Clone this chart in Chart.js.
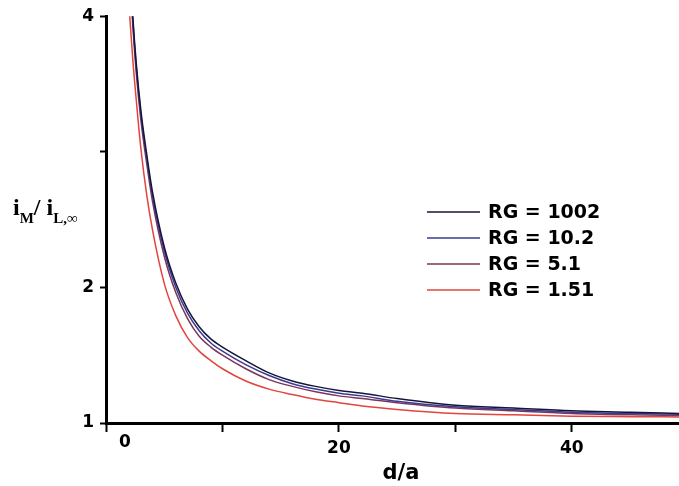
<!DOCTYPE html>
<html>
<head>
<meta charset="utf-8">
<script src="https://cdn.jsdelivr.net/npm/chart.js@4.4.1/dist/chart.umd.min.js"></script>
<style>
    html, body { margin: 0; padding: 0; background: #fff; }
</style>
</head>
<body>
<canvas id="grafico" width="679" height="486"></canvas>
<script>
// d/a onde as curvas foram lidas
const distancias = [2.0, 2.3, 2.6, 3.0, 3.5, 4, 5, 6, 7, 8, 9, 10, 12, 14, 16, 18, 20, 22, 25, 30, 35, 40, 45, 49.2];

// iM / iL,inf para cada RG
const rg1002 = [4.45, 4.0, 3.65, 3.3, 2.98, 2.70, 2.30, 2.03, 1.84, 1.71, 1.62, 1.56, 1.46, 1.37, 1.31, 1.27, 1.24, 1.22, 1.18, 1.13, 1.11, 1.09, 1.08, 1.07];
const rg102 = [4.42, 3.97, 3.62, 3.27, 2.95, 2.67, 2.27, 2.00, 1.81, 1.68, 1.59, 1.53, 1.43, 1.35, 1.29, 1.25, 1.22, 1.20, 1.16, 1.12, 1.10, 1.08, 1.07, 1.065];
const rg51 = [4.38, 3.93, 3.58, 3.23, 2.91, 2.63, 2.23, 1.96, 1.77, 1.64, 1.56, 1.50, 1.40, 1.32, 1.27, 1.23, 1.20, 1.18, 1.15, 1.11, 1.09, 1.07, 1.06, 1.055];
const rg151 = [4.05, 3.68, 3.38, 3.02, 2.68, 2.42, 2.03, 1.79, 1.63, 1.53, 1.46, 1.40, 1.31, 1.25, 1.21, 1.175, 1.15, 1.125, 1.10, 1.07, 1.06, 1.05, 1.047, 1.045];

const rotulos = ["RG = 1002", "RG = 10.2", "RG = 5.1", "RG = 1.51"];
const series = [rg1002, rg102, rg51, rg151];
const cores = ["#16163a", "#3a3a94", "#7c3656", "#e2443e"];

// rótulos dos eixos
const rotulosY = [1, 2, 4];
const rotulosX = [20, 40];

const fonte = '"DejaVu Sans", sans-serif';

// textos desenhados à mão: título dos eixos, legenda e o "0"
const textos = {
    id: "textos",
    afterDraw(chart) {
        const ctx = chart.ctx;
        const eixoX = chart.scales.x;
        ctx.save();
        ctx.fillStyle = "#000";

        // "0" fica deslocado para a direita no original
        ctx.font = "bold 17px " + fonte;
        ctx.textAlign = "center";
        ctx.textBaseline = "middle";
        ctx.fillText("0", eixoX.getPixelForValue(0) + 19, 443);

        // título do eixo x
        ctx.font = "bold 21px " + fonte;
        ctx.fillText("d/a", 401, 474);

        // título do eixo y com índices
        ctx.textAlign = "left";
        ctx.textBaseline = "alphabetic";
        const principal = 'bold 24px "Liberation Serif", serif';
        const indice = 'bold 15px "Liberation Serif", serif';
        let x = 13;
        const base = 215;
        ctx.font = principal;
        ctx.fillText("i", x, base);
        x += ctx.measureText("i").width;
        ctx.font = indice;
        ctx.fillText("M", x, base + 8);
        x += ctx.measureText("M").width;
        ctx.font = principal;
        ctx.fillText("/ i", x, base);
        x += ctx.measureText("/ i").width;
        ctx.font = indice;
        ctx.fillText("L,\u221E", x, base + 8);

        // legenda
        ctx.font = "bold 19px " + fonte;
        ctx.textBaseline = "middle";
        rotulos.forEach((rotulo, i) => {
            const y = 212 + i * 26;
            ctx.strokeStyle = cores[i];
            ctx.lineWidth = 1.5;
            ctx.beginPath();
            ctx.moveTo(427, y);
            ctx.lineTo(480, y);
            ctx.stroke();
            ctx.fillStyle = "#000";
            ctx.fillText(rotulo, 488, y + 1);
        });

        ctx.restore();
    }
};

const contexto = document.getElementById("grafico").getContext("2d");

new Chart(contexto, {
    type: "line",
    data: {
        labels: distancias,
        datasets: series.map((valores, i) => ({
            label: rotulos[i],
            data: distancias.map((d, j) => ({ x: d, y: valores[j] })),
            borderColor: cores[i],
            borderWidth: 1.5,
            pointRadius: 0,
            fill: false,
            cubicInterpolationMode: "monotone"
        }))
    },
    options: {
        responsive: false,
        animation: false,
        devicePixelRatio: 1,
        layout: { padding: { top: 15, right: 0, left: 0, bottom: 0 } },
        plugins: {
            legend: { display: false },
            tooltip: { enabled: false }
        },
        scales: {
            x: {
                type: "linear",
                min: 0,
                max: 49.2,
                afterFit: (escala) => { escala.height = 63; },
                border: { color: "#000", width: 3 },
                grid: {
                    drawOnChartArea: false,
                    tickLength: 9,
                    tickColor: "#000",
                    tickWidth: 2
                },
                ticks: {
                    stepSize: 10,
                    includeBounds: false,
                    autoSkip: false,
                    maxRotation: 0,
                    padding: 6,
                    color: "#000",
                    font: { family: fonte, weight: "bold", size: 17 },
                    callback: (v) => rotulosX.includes(v) ? String(v) : ""
                }
            },
            y: {
                min: 1,
                max: 4,
                afterFit: (escala) => { escala.width = 106; },
                border: { color: "#000", width: 3 },
                grid: {
                    drawOnChartArea: false,
                    tickLength: 6,
                    tickColor: "#000",
                    tickWidth: 2
                },
                ticks: {
                    stepSize: 1,
                    padding: 6,
                    color: "#000",
                    font: { family: fonte, weight: "bold", size: 17 },
                    callback: (v) => rotulosY.includes(v) ? String(v) : ""
                }
            }
        }
    },
    plugins: [textos]
});
</script>
</body>
</html>
